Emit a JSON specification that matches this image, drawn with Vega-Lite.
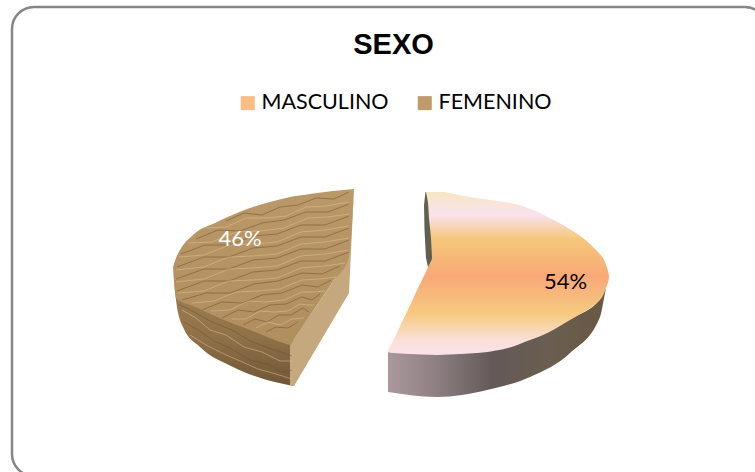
{
"$schema":"https://vega.github.io/schema/vega-lite/v6.json",
"width":755,"height":472,"padding":0,"autosize":"none",
"background":"white",
"view":{"stroke":null},
"title":{"text":"SEXO","font":"Liberation Sans","fontWeight":"bold","fontSize":29,"color":"#000000","anchor":"middle","dx":16,"dy":83,"offset":0,"baseline":"alphabetic"},
"datasets":{
"marco":[{"x":12,"x2":767,"y":7,"y2":476}],
"valores":[{"sexo":"MASCULINO","valor":54,"etiqueta":"54%","x":565.5,"y":282,"tono":"oscuro"},{"sexo":"FEMENINO","valor":46,"etiqueta":"46%","x":240,"y":239,"tono":"claro"}],
"caraFem":[
{"x":173,"y":267,"y2":267},{"x":176,"y":258,"y2":298},{"x":180,"y":250,"y2":301},{"x":193,"y":235,"y2":306},{"x":217,"y":222,"y2":317},{"x":250,"y":208,"y2":330},{"x":288,"y":197.5,"y2":344.5},{"x":290,"y":197,"y2":345},{"x":292,"y":196.5,"y2":342},{"x":300,"y":195.5,"y2":330.5},{"x":317,"y":193,"y2":305},{"x":333,"y":191,"y2":281.5},{"x":349,"y":189.5,"y2":258},{"x":354,"y":189,"y2":189}],
"paredFem":[
{"x":173,"y":267,"y2":267},{"x":176,"y":290,"y2":300},{"x":183,"y":295,"y2":327},{"x":200,"y":305,"y2":347},{"x":233,"y":320,"y2":367},{"x":267,"y":335,"y2":380},{"x":294,"y":340,"y2":386}],
"corteFem":[
{"x":290,"y":345,"y2":385},{"x":294,"y":339,"y2":386},{"x":349,"y":258,"y2":293},{"x":351,"y":230,"y2":251},{"x":354,"y":189,"y2":189}],
"caraMas":[
{"y":192,"x":426,"x2":445},{"y":197,"x":427,"x2":470},{"y":203,"x":428,"x2":510},{"y":210,"x":428.5,"x2":533},{"y":218,"x":429,"x2":550},{"y":228,"x":430,"x2":568},{"y":238,"x":431,"x2":583},{"y":248,"x":431.5,"x2":594},{"y":258,"x":432,"x2":603},{"y":265,"x":429,"x2":606},{"y":277,"x":423.5,"x2":609},{"y":288,"x":418,"x2":606},{"y":300,"x":412.5,"x2":600},{"y":320,"x":403,"x2":570},{"y":340,"x":393.5,"x2":530},{"y":352,"x":388,"x2":487},{"y":354,"x":410,"x2":460},{"y":355,"x":437,"x2":437}],
"paredMas":[
{"x":388,"y":352,"y2":392},{"x":437,"y":354,"y2":397},{"x":487,"y":351,"y2":390},{"x":530,"y":339,"y2":377},{"x":570,"y":319,"y2":353},{"x":600,"y":299,"y2":317},{"x":605,"y":290,"y2":293},{"x":606,"y":288,"y2":288}],
"filoMas":[
{"y":192,"x":425.5,"x2":430},{"y":205,"x":424,"x2":432},{"y":230,"x":424.5,"x2":434},{"y":258,"x":426,"x2":434},{"y":267,"x":428,"x2":432}],
"textura":[
{"f":"A","t":"oscuro","x":226,"y":221},{"f":"A","t":"oscuro","x":244,"y":213},{"f":"A","t":"oscuro","x":262,"y":215},{"f":"A","t":"oscuro","x":280,"y":207},{"f":"A","t":"oscuro","x":298,"y":205},{"f":"A","t":"oscuro","x":316,"y":198},{"f":"A","t":"oscuro","x":334,"y":199},{"f":"A","t":"oscuro","x":349,"y":192},
{"f":"B","t":"claro","x":206,"y":228},{"f":"B","t":"claro","x":226,"y":227},{"f":"B","t":"claro","x":246,"y":218},{"f":"B","t":"claro","x":266,"y":218},{"f":"B","t":"claro","x":286,"y":216},{"f":"B","t":"claro","x":306,"y":207},{"f":"B","t":"claro","x":326,"y":206},{"f":"B","t":"claro","x":349,"y":202},
{"f":"C","t":"oscuro","x":196,"y":239},{"f":"C","t":"oscuro","x":218,"y":230},{"f":"C","t":"oscuro","x":240,"y":231},{"f":"C","t":"oscuro","x":262,"y":223},{"f":"C","t":"oscuro","x":284,"y":220},{"f":"C","t":"oscuro","x":306,"y":212},{"f":"C","t":"oscuro","x":328,"y":212},{"f":"C","t":"oscuro","x":349,"y":204},
{"f":"D","t":"claro","x":188,"y":243},{"f":"D","t":"claro","x":212,"y":242},{"f":"D","t":"claro","x":236,"y":232},{"f":"D","t":"claro","x":260,"y":231},{"f":"D","t":"claro","x":284,"y":228},{"f":"D","t":"claro","x":308,"y":218},{"f":"D","t":"claro","x":328,"y":217},{"f":"D","t":"claro","x":349,"y":214},
{"f":"E","t":"oscuro","x":181,"y":254},{"f":"E","t":"oscuro","x":205,"y":245},{"f":"E","t":"oscuro","x":229,"y":245},{"f":"E","t":"oscuro","x":253,"y":236},{"f":"E","t":"oscuro","x":277,"y":234},{"f":"E","t":"oscuro","x":301,"y":225},{"f":"E","t":"oscuro","x":325,"y":225},{"f":"E","t":"oscuro","x":349,"y":216},
{"f":"F","t":"claro","x":179,"y":257},{"f":"F","t":"claro","x":204,"y":255},{"f":"F","t":"claro","x":229,"y":245},{"f":"F","t":"claro","x":253,"y":244},{"f":"F","t":"claro","x":277,"y":242},{"f":"F","t":"claro","x":301,"y":232},{"f":"F","t":"claro","x":325,"y":230},{"f":"F","t":"claro","x":349,"y":226},
{"f":"G","t":"oscuro","x":177,"y":267},{"f":"G","t":"oscuro","x":204,"y":257},{"f":"G","t":"oscuro","x":229,"y":257},{"f":"G","t":"oscuro","x":253,"y":248},{"f":"G","t":"oscuro","x":277,"y":246},{"f":"G","t":"oscuro","x":301,"y":237},{"f":"G","t":"oscuro","x":325,"y":237},{"f":"G","t":"oscuro","x":349,"y":228},
{"f":"H","t":"claro","x":176,"y":270},{"f":"H","t":"claro","x":204,"y":267},{"f":"H","t":"claro","x":229,"y":257},{"f":"H","t":"claro","x":253,"y":256},{"f":"H","t":"claro","x":277,"y":254},{"f":"H","t":"claro","x":301,"y":244},{"f":"H","t":"claro","x":325,"y":242},{"f":"H","t":"claro","x":349,"y":238},
{"f":"I","t":"oscuro","x":176,"y":279},{"f":"I","t":"oscuro","x":204,"y":269},{"f":"I","t":"oscuro","x":229,"y":269},{"f":"I","t":"oscuro","x":253,"y":260},{"f":"I","t":"oscuro","x":277,"y":258},{"f":"I","t":"oscuro","x":301,"y":249},{"f":"I","t":"oscuro","x":325,"y":249},{"f":"I","t":"oscuro","x":349,"y":240},
{"f":"J","t":"claro","x":176,"y":282},{"f":"J","t":"claro","x":204,"y":279},{"f":"J","t":"claro","x":229,"y":269},{"f":"J","t":"claro","x":253,"y":268},{"f":"J","t":"claro","x":277,"y":266},{"f":"J","t":"claro","x":301,"y":256},{"f":"J","t":"claro","x":325,"y":254},{"f":"J","t":"claro","x":349,"y":250},
{"f":"K","t":"oscuro","x":177,"y":291},{"f":"K","t":"oscuro","x":204,"y":281},{"f":"K","t":"oscuro","x":229,"y":281},{"f":"K","t":"oscuro","x":253,"y":272},{"f":"K","t":"oscuro","x":277,"y":270},{"f":"K","t":"oscuro","x":301,"y":261},{"f":"K","t":"oscuro","x":325,"y":261},{"f":"K","t":"oscuro","x":349,"y":252},
{"f":"L","t":"claro","x":178,"y":293},{"f":"L","t":"claro","x":204,"y":291},{"f":"L","t":"claro","x":229,"y":281},{"f":"L","t":"claro","x":253,"y":280},{"f":"L","t":"claro","x":277,"y":278},{"f":"L","t":"claro","x":301,"y":268},{"f":"L","t":"claro","x":325,"y":266},{"f":"L","t":"claro","x":345,"y":263},
{"f":"M","t":"oscuro","x":182,"y":300},{"f":"M","t":"oscuro","x":206,"y":293},{"f":"M","t":"oscuro","x":230,"y":293},{"f":"M","t":"oscuro","x":254,"y":284},{"f":"M","t":"oscuro","x":278,"y":281},{"f":"M","t":"oscuro","x":302,"y":273},{"f":"M","t":"oscuro","x":322,"y":274},{"f":"M","t":"oscuro","x":340,"y":266},
{"f":"N","t":"claro","x":192,"y":303},{"f":"N","t":"claro","x":214,"y":301},{"f":"N","t":"claro","x":236,"y":292},{"f":"N","t":"claro","x":258,"y":291},{"f":"N","t":"claro","x":280,"y":289},{"f":"N","t":"claro","x":302,"y":280},{"f":"N","t":"claro","x":320,"y":279},{"f":"N","t":"claro","x":336,"y":277},
{"f":"O","t":"oscuro","x":202,"y":310},{"f":"O","t":"oscuro","x":222,"y":302},{"f":"O","t":"oscuro","x":242,"y":303},{"f":"O","t":"oscuro","x":262,"y":295},{"f":"O","t":"oscuro","x":282,"y":293},{"f":"O","t":"oscuro","x":302,"y":285},{"f":"O","t":"oscuro","x":318,"y":287},{"f":"O","t":"oscuro","x":331,"y":280},
{"f":"P","t":"claro","x":211,"y":311},{"f":"P","t":"claro","x":230,"y":310},{"f":"P","t":"claro","x":248,"y":301},{"f":"P","t":"claro","x":266,"y":302},{"f":"P","t":"claro","x":284,"y":300},{"f":"P","t":"claro","x":302,"y":292},{"f":"P","t":"claro","x":314,"y":292},{"f":"P","t":"claro","x":325,"y":291},
{"f":"Q","t":"oscuro","x":222,"y":318},{"f":"Q","t":"oscuro","x":238,"y":310},{"f":"Q","t":"oscuro","x":254,"y":312},{"f":"Q","t":"oscuro","x":270,"y":305},{"f":"Q","t":"oscuro","x":286,"y":304},{"f":"Q","t":"oscuro","x":302,"y":297},{"f":"Q","t":"oscuro","x":312,"y":300},{"f":"Q","t":"oscuro","x":320,"y":294},
{"f":"R","t":"claro","x":232,"y":319},{"f":"R","t":"claro","x":246,"y":319},{"f":"R","t":"claro","x":260,"y":311},{"f":"R","t":"claro","x":274,"y":312},{"f":"R","t":"claro","x":288,"y":311},{"f":"R","t":"claro","x":300,"y":304},{"f":"R","t":"claro","x":308,"y":305},{"f":"R","t":"claro","x":314,"y":305},
{"f":"S","t":"oscuro","x":243,"y":325},{"f":"S","t":"oscuro","x":255,"y":319},{"f":"S","t":"oscuro","x":267,"y":322},{"f":"S","t":"oscuro","x":279,"y":315},{"f":"S","t":"oscuro","x":291,"y":315},{"f":"S","t":"oscuro","x":303,"y":308},{"f":"S","t":"oscuro","x":309,"y":312},
{"f":"T","t":"claro","x":256,"y":328},{"f":"T","t":"claro","x":268,"y":322},{"f":"T","t":"claro","x":280,"y":325},{"f":"T","t":"claro","x":292,"y":319},{"f":"T","t":"claro","x":304,"y":318},
{"f":"U","t":"oscuro","x":266,"y":332},{"f":"U","t":"oscuro","x":276,"y":327},{"f":"U","t":"oscuro","x":288,"y":328},{"f":"U","t":"oscuro","x":298,"y":322},
{"f":"W1","t":"claro","x":182,"y":310},{"f":"W1","t":"claro","x":196,"y":318},{"f":"W1","t":"claro","x":210,"y":330},{"f":"W1","t":"claro","x":226,"y":335},{"f":"W1","t":"claro","x":244,"y":347},{"f":"W1","t":"claro","x":262,"y":352},{"f":"W1","t":"claro","x":280,"y":361},{"f":"W1","t":"claro","x":292,"y":361},
{"f":"W2","t":"oscuro","x":184,"y":322},{"f":"W2","t":"oscuro","x":198,"y":330},{"f":"W2","t":"oscuro","x":214,"y":341},{"f":"W2","t":"oscuro","x":232,"y":349},{"f":"W2","t":"oscuro","x":250,"y":360},{"f":"W2","t":"oscuro","x":268,"y":364},{"f":"W2","t":"oscuro","x":282,"y":372},{"f":"W2","t":"oscuro","x":292,"y":370},
{"f":"W3","t":"claro","x":190,"y":335},{"f":"W3","t":"claro","x":206,"y":345},{"f":"W3","t":"claro","x":224,"y":354},{"f":"W3","t":"claro","x":240,"y":361},{"f":"W3","t":"claro","x":258,"y":369},{"f":"W3","t":"claro","x":276,"y":374},{"f":"W3","t":"claro","x":292,"y":379},
{"f":"W4","t":"oscuro","x":178,"y":304},{"f":"W4","t":"oscuro","x":194,"y":312},{"f":"W4","t":"oscuro","x":212,"y":322},{"f":"W4","t":"oscuro","x":232,"y":330},{"f":"W4","t":"oscuro","x":252,"y":342},{"f":"W4","t":"oscuro","x":272,"y":349},{"f":"W4","t":"oscuro","x":292,"y":356}]
},
"encoding":{
"x":{"field":"x","type":"quantitative","scale":{"domain":[0,755]},"axis":null},
"y":{"field":"y","type":"quantitative","scale":{"domain":[472,0]},"axis":null}
},
"layer":[
{"data":{"name":"marco"},"mark":{"type":"rect","fill":"white","stroke":"#868686","strokeWidth":2.5,"cornerRadius":22},
 "encoding":{"x2":{"field":"x2"},"y2":{"field":"y2"}}},
{"data":{"name":"valores"},"mark":{"type":"point","filled":true,"shape":"square","opacity":0},
 "encoding":{"color":{"field":"sexo","type":"nominal","scale":{"domain":["MASCULINO","FEMENINO"],"range":["#F9BE85","#BE9A6C"]},
  "legend":{"orient":"none","legendX":237,"legendY":92,"direction":"horizontal","title":null,"symbolType":"square","symbolSize":196,"symbolOpacity":1,"symbolStrokeWidth":0,"labelFont":"Lato","labelFontSize":21.5,"labelColor":"#000000","labelOffset":3,"columnPadding":25,"values":["MASCULINO","FEMENINO"]}}}},
{"data":{"name":"paredFem"},"mark":{"type":"area","interpolate":"monotone","fill":{"x1":0,"y1":0,"x2":0,"y2":1,"gradient":"linear","stops":[{"offset":0,"color":"#A68555"},{"offset":0.6,"color":"#8F7048"},{"offset":1,"color":"#6F5636"}]}},
 "encoding":{"y2":{"field":"y2"}}},
{"data":{"name":"corteFem"},"mark":{"type":"area","fill":"#C6A87E"},"encoding":{"y2":{"field":"y2"}}},
{"data":{"name":"caraFem"},"mark":{"type":"area","interpolate":"monotone","fill":{"x1":0,"y1":0,"x2":0,"y2":1,"gradient":"linear","stops":[{"offset":0,"color":"#BA9868"},{"offset":1,"color":"#B08E5E"}]}},
 "encoding":{"y2":{"field":"y2"}}},
{"data":{"name":"textura"},"mark":{"type":"line","strokeWidth":1,"opacity":0.5,"strokeJoin":"bevel"},
 "encoding":{"detail":{"field":"f"},"stroke":{"field":"t","type":"nominal","scale":{"domain":["oscuro","claro"],"range":["#6B4E2A","#E2C69A"]},"legend":null}}},
{"data":{"name":"filoMas"},"mark":{"type":"area","orient":"horizontal","fill":"#5F6050"},"encoding":{"x2":{"field":"x2"}}},
{"data":{"name":"paredMas"},"mark":{"type":"area","interpolate":"monotone","fill":{"x1":0,"y1":0,"x2":1,"y2":0,"gradient":"linear","stops":[{"offset":0,"color":"#AA989C"},{"offset":0.22,"color":"#8E7F82"},{"offset":0.48,"color":"#635957"},{"offset":0.75,"color":"#6B5E50"},{"offset":1,"color":"#685842"}]}},
 "encoding":{"y2":{"field":"y2"}}},
{"data":{"name":"caraMas"},"mark":{"type":"area","orient":"horizontal","interpolate":"monotone","fill":{"x1":0,"y1":0,"x2":0,"y2":1,"gradient":"linear","stops":[{"offset":0,"color":"#F8E5C4"},{"offset":0.14,"color":"#FAE2EE"},{"offset":0.29,"color":"#F5C77A"},{"offset":0.52,"color":"#F9A877"},{"offset":0.75,"color":"#F6CB80"},{"offset":0.91,"color":"#F9E0D8"},{"offset":1,"color":"#FBE2EC"}]}},
 "encoding":{"x2":{"field":"x2"}}},
{"data":{"name":"valores"},"mark":{"type":"text","font":"Lato","fontSize":22,"align":"center","baseline":"middle"},
 "encoding":{"text":{"field":"etiqueta"},"fill":{"field":"tono","type":"nominal","scale":{"domain":["oscuro","claro"],"range":["#000000","#FFFFFF"]},"legend":null}}}
]
}
